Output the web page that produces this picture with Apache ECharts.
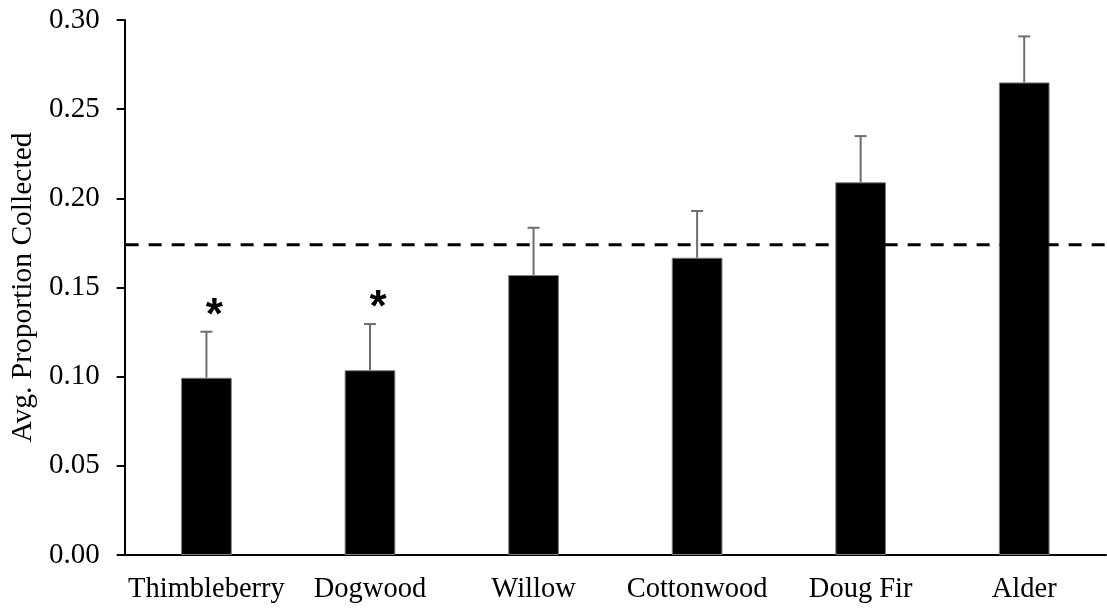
<!DOCTYPE html>
<html><head><meta charset="utf-8">
<script src="https://cdn.jsdelivr.net/npm/echarts@6/dist/echarts.min.js"></script>
<style>html,body{margin:0;padding:0;background:#fff}#c{width:1107px;height:609px}</style>
</head><body><div id="c"></div>
<script>
const categories = ['Thimbleberry', 'Dogwood', 'Willow', 'Cottonwood', 'Doug Fir', 'Alder'];
const meanValues = [0.0994, 0.1036, 0.157, 0.1667, 0.209, 0.265];
const upperValues = [0.1252, 0.1295, 0.1835, 0.1929, 0.2349, 0.2908];
const marks = ['*', '*', '', '', '', ''];
const referenceLine = [0.174];
const yAxisTitle = 'Avg. Proportion Collected';

const chart = echarts.init(document.getElementById('c'), null, {renderer: 'canvas'});
const serif = '"Liberation Serif", "Times New Roman", serif';
chart.setOption({
  animation: false,
  backgroundColor: '#fff',
  grid: {left: 123, right: 1, top: 20, bottom: 54, containLabel: false},
  xAxis: {
    type: 'category', data: categories,
    axisLine: {lineStyle: {color: '#000', width: 2}},
    axisTick: {show: false},
    axisLabel: {color: '#000', fontFamily: serif, fontSize: 28.5, margin: 20, interval: 0}
  },
  yAxis: {
    type: 'value', min: 0, max: 0.30, interval: 0.05,
    name: yAxisTitle, nameLocation: 'middle', nameGap: 86,
    nameTextStyle: {color: '#000', fontFamily: serif, fontSize: 29.5},
    axisLine: {show: true, lineStyle: {color: '#000', width: 2}},
    axisTick: {show: true, length: 8, lineStyle: {color: '#000', width: 2}},
    splitLine: {show: false},
    axisLabel: {color: '#000', fontFamily: serif, fontSize: 29, margin: 25,
      formatter: v => v.toFixed(2)}
  },
  series: [
    {
      type: 'bar', data: meanValues, barWidth: '31%',
      itemStyle: {color: '#000', borderColor: '#7f7f7f', borderWidth: 1}
    },
    {
      type: 'custom',
      data: referenceLine.map(v => [0, v]),
      renderItem: function (params, api) {
        const cs = params.coordSys;
        const p = api.coord([0, api.value(1)]);
        return {type: 'line',
          shape: {x1: cs.x + 1, y1: p[1], x2: cs.x + cs.width, y2: p[1]},
          style: {stroke: '#000', lineWidth: 3, lineDash: [13, 10]}};
      },
      z: 4
    },
    {
      type: 'custom',
      data: categories.map((c, i) => [i, meanValues[i], upperValues[i]]),
      renderItem: function (params, api) {
        const x = api.value(0);
        const top = api.coord([x, api.value(2)]);
        const bot = api.coord([x, api.value(1)]);
        const children = [
          {type: 'line', shape: {x1: top[0], y1: top[1], x2: bot[0], y2: bot[1]},
           style: {stroke: '#6e6e6e', lineWidth: 2}},
          {type: 'line', shape: {x1: top[0] - 6, y1: top[1], x2: top[0] + 6, y2: top[1]},
           style: {stroke: '#6e6e6e', lineWidth: 2}}
        ];
        const m = marks[params.dataIndex];
        if (m) {
          children.push({type: 'text', style: {text: m, x: top[0] + 8, y: top[1] + 7,
            fill: '#000', font: 'bold 44px "Liberation Sans", Arial, sans-serif',
            align: 'center', verticalAlign: 'bottom'}});
        }
        return {type: 'group', children: children};
      },
      z: 5
    }
  ]
});
</script></body></html>
